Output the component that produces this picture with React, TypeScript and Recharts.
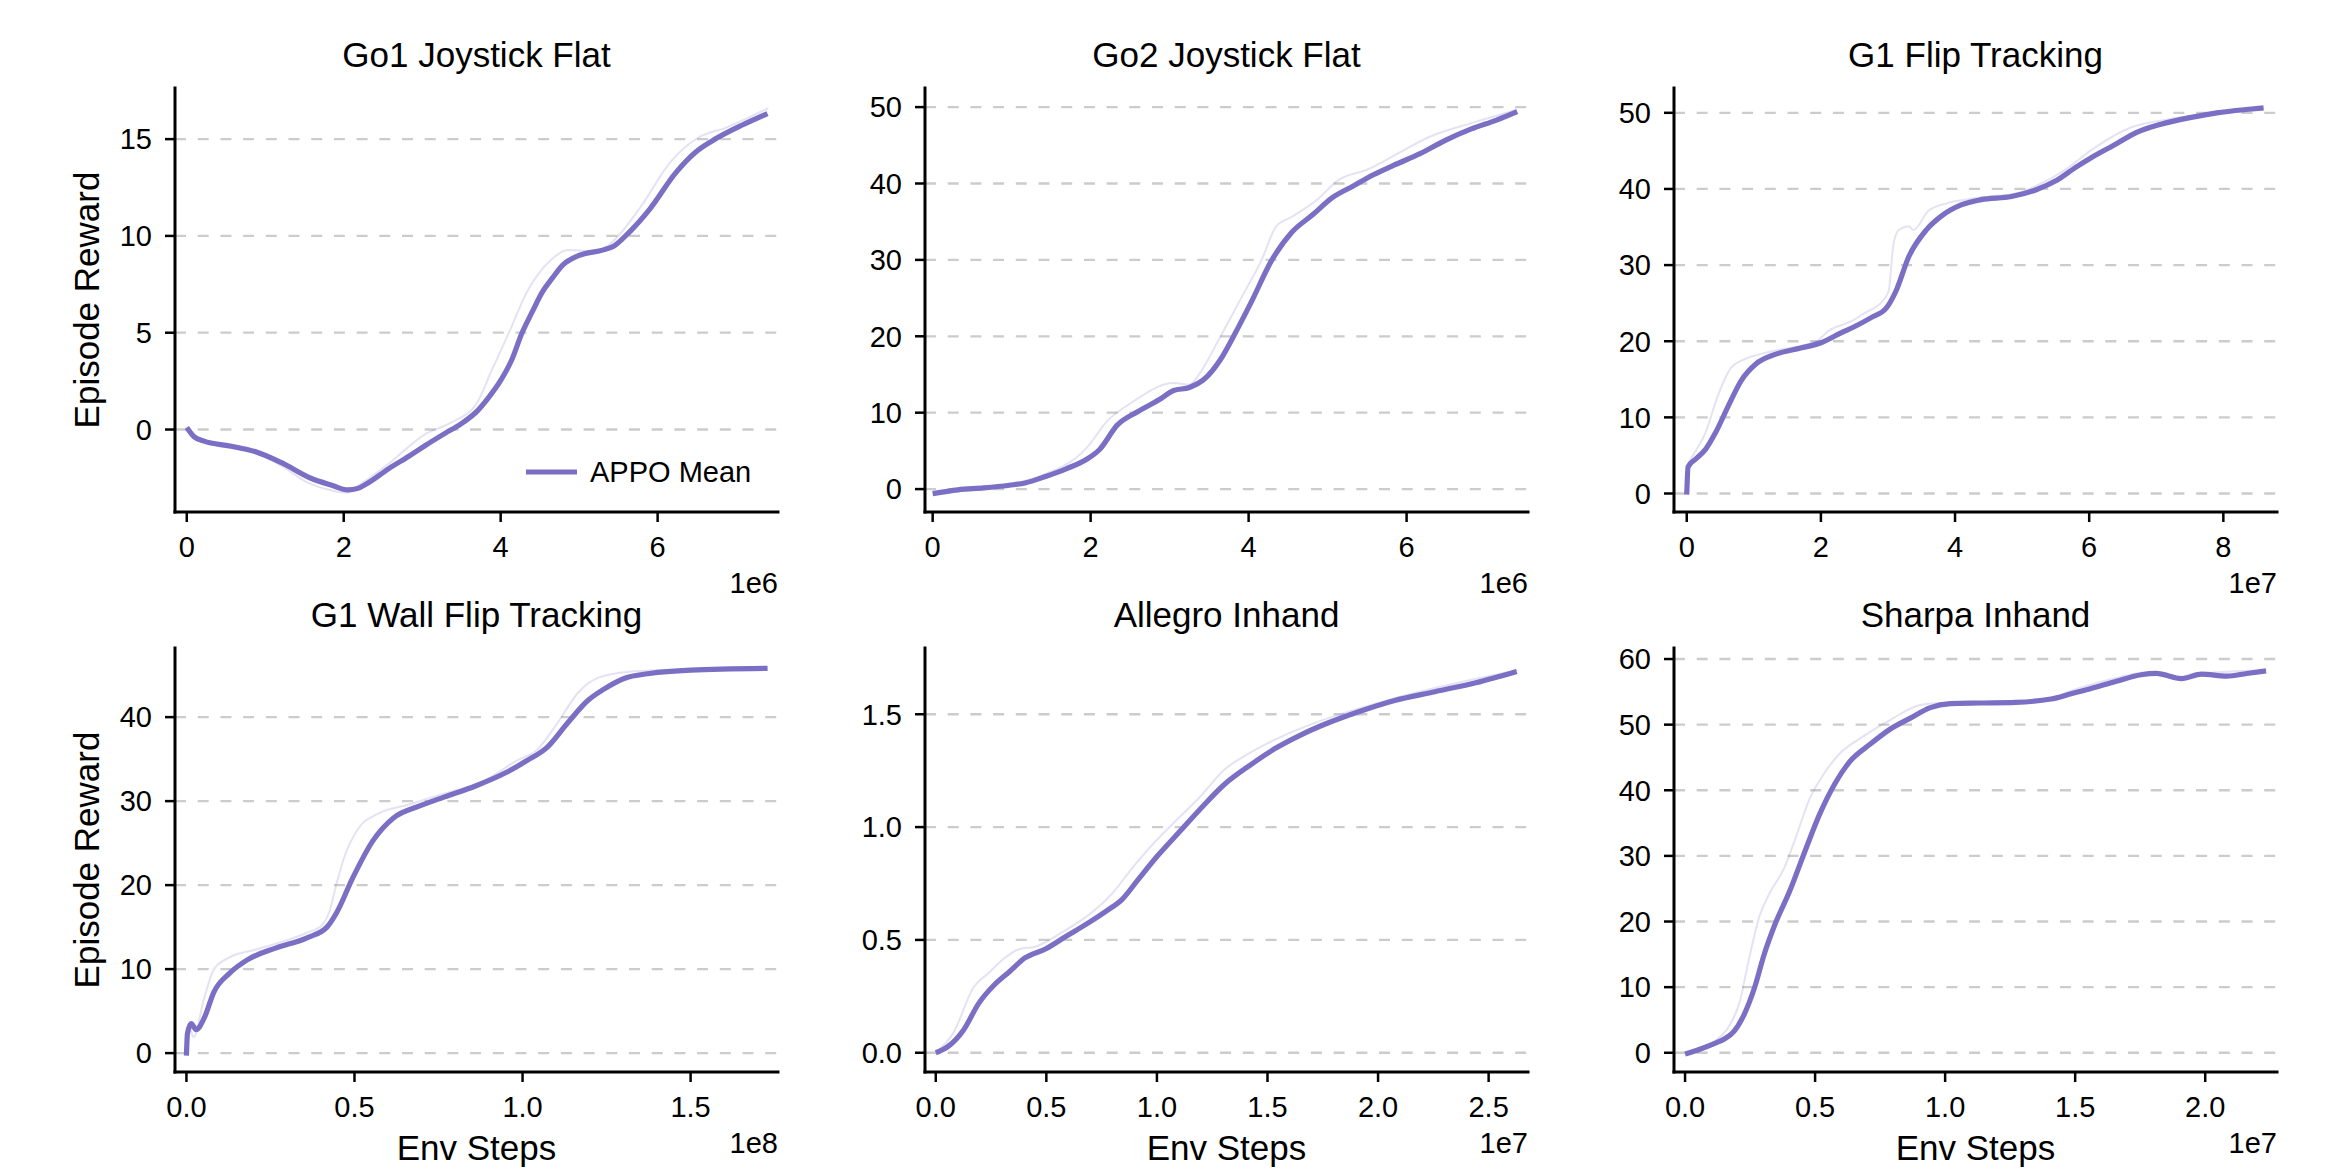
import React from 'react';
import { LineChart, Line, XAxis, YAxis, CartesianGrid } from 'recharts';

const FONT = '"Liberation Sans", Arial, Helvetica, sans-serif';
const MEAN_COLOR = '#7a6fc4';

// ---------- Go1 Joystick Flat ----------
const go1MeanSteps = [0, 0.09e6, 0.22e6, 0.55e6, 0.87e6, 1.2e6, 1.59e6, 1.85e6, 2.05e6, 2.18e6, 2.31e6, 2.57e6, 2.83e6, 3.03e6, 3.29e6, 3.49e6, 3.71e6, 3.84e6, 4.01e6, 4.14e6, 4.27e6, 4.4e6, 4.53e6, 4.66e6, 4.79e6, 4.99e6, 5.31e6, 5.44e6, 5.64e6, 5.9e6, 6.23e6, 6.49e6, 6.75e6, 7.08e6, 7.4e6];
const go1MeanReward = [0.1, -0.36, -0.6, -0.85, -1.14, -1.7, -2.53, -2.88, -3.12, -3.04, -2.76, -2.03, -1.38, -0.85, -0.2, 0.28, 0.99, 1.62, 2.6, 3.59, 4.97, 6.06, 7.1, 7.83, 8.49, 8.98, 9.28, 9.47, 10.2, 11.39, 13.26, 14.35, 15.04, 15.73, 16.32];
const go1RawSteps = [0, 0.1e6, 0.5e6, 0.88e6, 1.2e6, 1.53e6, 1.8e6, 2.05e6, 2.18e6, 2.58e6, 3.03e6, 3.36e6, 3.69e6, 3.88e6, 4.08e6, 4.34e6, 4.63e6, 4.86e6, 5.25e6, 5.45e6, 5.78e6, 6.17e6, 6.5e6, 6.89e6, 7.41e6];
const go1RawReward = [0.1, -0.5, -0.9, -1.24, -1.85, -2.72, -3.1, -3.27, -2.92, -1.74, -0.26, 0.34, 1.32, 3.0, 4.77, 7.14, 8.72, 9.27, 9.21, 9.8, 11.48, 13.85, 15.03, 15.62, 16.6];

// ---------- Go2 Joystick Flat ----------
const go2MeanSteps = [0, 0.32e6, 0.65e6, 0.97e6, 1.17e6, 1.43e6, 1.69e6, 1.95e6, 2.11e6, 2.34e6, 2.6e6, 2.86e6, 3.05e6, 3.25e6, 3.44e6, 3.64e6, 3.83e6, 4.03e6, 4.29e6, 4.55e6, 4.81e6, 5.06e6, 5.32e6, 5.58e6, 5.84e6, 6.17e6, 6.49e6, 6.82e6, 7.14e6, 7.4e6];
const go2MeanReward = [-0.6, -0.1, 0.15, 0.5, 0.8, 1.65, 2.65, 3.9, 5.15, 8.4, 10.15, 11.65, 12.9, 13.3, 14.4, 16.9, 20.4, 24.4, 29.9, 33.65, 35.9, 38.15, 39.65, 41.15, 42.4, 43.9, 45.65, 47.15, 48.3, 49.4];
const go2RawSteps = [0, 0.97e6, 1.3e6, 1.95e6, 2.21e6, 2.53e6, 3.05e6, 3.25e6, 3.38e6, 3.64e6, 3.9e6, 4.16e6, 4.35e6, 4.55e6, 4.87e6, 5.13e6, 5.52e6, 5.84e6, 6.3e6, 6.82e6, 7.4e6];
const go2RawReward = [-0.5, 0.6, 1.5, 5.4, 8.9, 11.4, 13.9, 13.65, 15.15, 19.9, 24.9, 29.9, 34.4, 35.65, 37.9, 40.4, 41.9, 43.65, 46.15, 47.9, 49.65];

// ---------- G1 Flip Tracking ----------
const flipMeanSteps = [0, 0.02e7, 0.13e7, 0.28e7, 0.43e7, 0.62e7, 0.81e7, 1.03e7, 1.33e7, 1.7e7, 2.0e7, 2.3e7, 2.52e7, 2.75e7, 2.97e7, 3.12e7, 3.31e7, 3.57e7, 3.79e7, 4.09e7, 4.39e7, 4.84e7, 5.21e7, 5.51e7, 5.81e7, 6.03e7, 6.4e7, 6.7e7, 7.07e7, 7.52e7, 7.9e7, 8.42e7, 8.6e7];
const flipMeanReward = [-0.15, 3.5, 4.5, 5.8, 8.0, 11.5, 14.8, 17.0, 18.3, 19.1, 19.8, 21.1, 22.0, 23.1, 24.3, 26.6, 31.1, 34.6, 36.4, 37.9, 38.6, 39.0, 39.9, 41.1, 42.9, 44.1, 45.9, 47.4, 48.5, 49.4, 50.0, 50.5, 50.65];
const flipRawSteps = [0, 0.02e7, 0.06e7, 0.28e7, 0.47e7, 0.66e7, 0.88e7, 1.18e7, 1.93e7, 2.12e7, 2.45e7, 2.67e7, 2.9e7, 3.01e7, 3.08e7, 3.16e7, 3.31e7, 3.38e7, 3.6e7, 3.87e7, 4.16e7, 4.39e7, 4.91e7, 5.21e7, 5.66e7, 6.03e7, 6.63e7, 7.15e7, 7.9e7, 8.6e7];
const flipRawReward = [0, 3.8, 4.5, 8.0, 13.0, 16.5, 17.7, 18.5, 20.0, 21.4, 22.6, 23.8, 25.1, 26.6, 32.6, 34.6, 35.1, 34.6, 37.1, 38.1, 38.6, 38.9, 39.4, 40.4, 42.6, 45.1, 48.1, 49.1, 49.9, 50.4];

// ---------- G1 Wall Flip Tracking ----------
const wallMeanSteps = [0, 0.003e8, 0.014e8, 0.029e8, 0.052e8, 0.082e8, 0.128e8, 0.181e8, 0.265e8, 0.357e8, 0.418e8, 0.448e8, 0.494e8, 0.555e8, 0.616e8, 0.692e8, 0.768e8, 0.86e8, 0.951e8, 1.012e8, 1.073e8, 1.134e8, 1.195e8, 1.241e8, 1.302e8, 1.378e8, 1.5e8, 1.729e8];
const wallMeanReward = [-0.3, 2.3, 3.5, 2.8, 4.1, 7.3, 9.5, 11.1, 12.5, 13.7, 15.0, 16.8, 20.8, 25.3, 28.0, 29.4, 30.5, 31.8, 33.4, 34.8, 36.4, 39.3, 42.0, 43.3, 44.6, 45.2, 45.6, 45.8];
const wallRawSteps = [0, 0.008e8, 0.021e8, 0.052e8, 0.082e8, 0.128e8, 0.204e8, 0.28e8, 0.357e8, 0.402e8, 0.425e8, 0.448e8, 0.471e8, 0.509e8, 0.57e8, 0.662e8, 0.768e8, 0.89e8, 0.982e8, 1.043e8, 1.104e8, 1.165e8, 1.226e8, 1.317e8, 1.424e8, 1.729e8];
const wallRawReward = [0, 3.2, 1.9, 6.4, 10.0, 11.4, 12.3, 13.2, 14.3, 15.2, 16.8, 20.4, 23.5, 26.6, 28.5, 29.6, 30.9, 32.5, 34.8, 36.1, 39.3, 42.9, 44.7, 45.4, 45.6, 45.8];

// ---------- Allegro Inhand ----------
const allegroMeanSteps = [0, 0.056e7, 0.125e7, 0.195e7, 0.264e7, 0.334e7, 0.403e7, 0.496e7, 0.588e7, 0.681e7, 0.774e7, 0.843e7, 0.913e7, 1.005e7, 1.098e7, 1.191e7, 1.306e7, 1.422e7, 1.538e7, 1.654e7, 1.77e7, 1.909e7, 2.071e7, 2.257e7, 2.442e7, 2.627e7];
const allegroMeanReward = [0, 0.028, 0.1, 0.22, 0.3, 0.36, 0.42, 0.46, 0.515, 0.57, 0.63, 0.68, 0.765, 0.875, 0.975, 1.075, 1.19, 1.275, 1.35, 1.41, 1.46, 1.51, 1.56, 1.6, 1.64, 1.69];
const allegroRawSteps = [0, 0.079e7, 0.171e7, 0.241e7, 0.311e7, 0.38e7, 0.45e7, 0.565e7, 0.797e7, 0.89e7, 0.982e7, 1.098e7, 1.191e7, 1.306e7, 1.422e7, 1.561e7, 1.724e7, 2.071e7, 2.627e7];
const allegroRawReward = [0, 0.087, 0.29, 0.355, 0.42, 0.46, 0.47, 0.53, 0.705, 0.82, 0.925, 1.04, 1.13, 1.255, 1.33, 1.4, 1.465, 1.57, 1.695];

// ---------- Sharpa Inhand ----------
const sharpaMeanSteps = [0, 0.054e7, 0.112e7, 0.151e7, 0.189e7, 0.228e7, 0.267e7, 0.305e7, 0.344e7, 0.402e7, 0.46e7, 0.518e7, 0.576e7, 0.634e7, 0.711e7, 0.788e7, 0.866e7, 0.943e7, 1.02e7, 1.136e7, 1.271e7, 1.407e7, 1.484e7, 1.561e7, 1.658e7, 1.754e7, 1.812e7, 1.909e7, 1.986e7, 2.083e7, 2.16e7, 2.234e7];
const sharpaMeanReward = [-0.2, 0.5, 1.4, 2.1, 3.3, 5.9, 9.9, 15.1, 19.4, 24.6, 30.6, 36.4, 41.0, 44.4, 47.0, 49.3, 51.0, 52.6, 53.2, 53.3, 53.4, 53.9, 54.7, 55.5, 56.6, 57.6, 57.8, 57.0, 57.7, 57.4, 57.8, 58.2];
const sharpaRawSteps = [0, 0.112e7, 0.17e7, 0.209e7, 0.247e7, 0.286e7, 0.325e7, 0.383e7, 0.421e7, 0.479e7, 0.537e7, 0.595e7, 0.673e7, 0.788e7, 0.904e7, 0.981e7, 1.174e7, 1.368e7, 1.503e7, 1.658e7, 1.774e7, 1.89e7, 1.948e7, 2.234e7];
const sharpaRawReward = [-0.2, 1.7, 4.1, 7.6, 14.5, 20.8, 24.3, 28.3, 32.3, 38.7, 42.7, 45.6, 47.9, 50.7, 53.0, 53.3, 53.3, 53.6, 55.4, 57.1, 58.0, 57.1, 57.7, 58.3];

// ---------- tick values ----------
const go1XTicks = [0, 2e6, 4e6, 6e6];
const go1YTicks = [0, 5, 10, 15];
const go2XTicks = [0, 2e6, 4e6, 6e6];
const go2YTicks = [0, 10, 20, 30, 40, 50];
const flipXTicks = [0, 2e7, 4e7, 6e7, 8e7];
const flipYTicks = [0, 10, 20, 30, 40, 50];
const wallXTicks = [0, 0.5e8, 1.0e8, 1.5e8];
const wallYTicks = [0, 10, 20, 30, 40];
const allegroXTicks = [0, 0.5e7, 1.0e7, 1.5e7, 2.0e7, 2.5e7];
const allegroYTicks = [0, 0.5, 1.0, 1.5];
const sharpaXTicks = [0, 0.5e7, 1.0e7, 1.5e7, 2.0e7];
const sharpaYTicks = [0, 10, 20, 30, 40, 50, 60];

type Pt = { step: number; value: number };
const toPoints = (steps: number[], values: number[]): Pt[] =>
  steps.map((s, i) => ({ step: s, value: values[i] }));

type Panel = {
  title: string;
  mean: Pt[];
  raw: Pt[];
  xDomain: [number, number];
  xTicks: number[];
  xExp: number;
  xDigits: number;
  yDomain: [number, number];
  yTicks: number[];
  yDigits: number;
};

const panels: Panel[] = [
  {
    title: 'Go1 Joystick Flat',
    mean: toPoints(go1MeanSteps, go1MeanReward),
    raw: toPoints(go1RawSteps, go1RawReward),
    xDomain: [-0.15e6, 7.534e6], xTicks: go1XTicks, xExp: 6, xDigits: 0,
    yDomain: [-4.26, 17.64], yTicks: go1YTicks, yDigits: 0,
  },
  {
    title: 'Go2 Joystick Flat',
    mean: toPoints(go2MeanSteps, go2MeanReward),
    raw: toPoints(go2RawSteps, go2RawReward),
    xDomain: [-0.097e6, 7.537e6], xTicks: go2XTicks, xExp: 6, xDigits: 0,
    yDomain: [-3.0, 52.5], yTicks: go2YTicks, yDigits: 0,
  },
  {
    title: 'G1 Flip Tracking',
    mean: toPoints(flipMeanSteps, flipMeanReward),
    raw: toPoints(flipRawSteps, flipRawReward),
    xDomain: [-0.19e7, 8.8e7], xTicks: flipXTicks, xExp: 7, xDigits: 0,
    yDomain: [-2.43, 53.26], yTicks: flipYTicks, yDigits: 0,
  },
  {
    title: 'G1 Wall Flip Tracking',
    mean: toPoints(wallMeanSteps, wallMeanReward),
    raw: toPoints(wallRawSteps, wallRawReward),
    xDomain: [-0.034e8, 1.76e8], xTicks: wallXTicks, xExp: 8, xDigits: 1,
    yDomain: [-2.25, 48.23], yTicks: wallYTicks, yDigits: 0,
  },
  {
    title: 'Allegro Inhand',
    mean: toPoints(allegroMeanSteps, allegroMeanReward),
    raw: toPoints(allegroRawSteps, allegroRawReward),
    xDomain: [-0.0487e7, 2.678e7], xTicks: allegroXTicks, xExp: 7, xDigits: 1,
    yDomain: [-0.0853, 1.7936], yTicks: allegroYTicks, yDigits: 1,
  },
  {
    title: 'Sharpa Inhand',
    mean: toPoints(sharpaMeanSteps, sharpaMeanReward),
    raw: toPoints(sharpaRawSteps, sharpaRawReward),
    xDomain: [-0.0425e7, 2.276e7], xTicks: sharpaXTicks, xExp: 7, xDigits: 1,
    yDomain: [-2.93, 61.68], yTicks: sharpaYTicks, yDigits: 0,
  },
];

// figure geometry (px)
const FIG_W = 2325;
const FIG_H = 1175;
const COL_LEFT = [175, 925, 1674];
const ROW_TOP = [88, 648];
const PLOT_W = 603;
const PLOT_H = 424;
const Y_AXIS_W = 110;
const X_AXIS_H = 62;
const PAD_TOP = 10;
const PAD_RIGHT = 20;

const TICK_FONT = 29;
const LABEL_FONT = 35;

function PanelChart({ p, col, row }: { p: Panel; col: number; row: number }) {
  const left = COL_LEFT[col] - Y_AXIS_W;
  const top = ROW_TOP[row] - PAD_TOP;
  const tickStyle = { fill: '#000', fontSize: TICK_FONT, fontFamily: FONT };
  const axisLine = { stroke: '#000', strokeWidth: 3, strokeLinecap: 'square' as const };
  const tickLine = { stroke: '#000', strokeWidth: 2.5 };
  return (
    <div style={{ position: 'absolute', left, top }}>
      <LineChart
        width={Y_AXIS_W + PLOT_W + PAD_RIGHT}
        height={PAD_TOP + PLOT_H + X_AXIS_H}
        margin={{ top: PAD_TOP, right: PAD_RIGHT, bottom: 0, left: 0 }}
      >
        {/* dashed horizontal grid at the reward ticks only */}
        <CartesianGrid
          vertical={false}
          horizontalValues={p.yTicks}
          stroke="#cccccc"
          strokeWidth={2.3}
          strokeDasharray="11 11.7"
        />
        <XAxis
          type="number"
          dataKey="step"
          domain={p.xDomain}
          allowDataOverflow
          ticks={p.xTicks}
          interval={0}
          height={X_AXIS_H}
          tickSize={10}
          tickMargin={14}
          stroke="#000"
          axisLine={axisLine}
          tickLine={tickLine}
          tick={tickStyle}
          tickFormatter={(v: number) => (v / Math.pow(10, p.xExp)).toFixed(p.xDigits)}
        />
        <YAxis
          type="number"
          dataKey="value"
          domain={p.yDomain}
          allowDataOverflow
          ticks={p.yTicks}
          interval={0}
          width={Y_AXIS_W}
          tickSize={10}
          tickMargin={13}
          stroke="#000"
          axisLine={axisLine}
          tickLine={tickLine}
          tick={tickStyle}
          tickFormatter={(v: number) => v.toFixed(p.yDigits)}
        />
        <Line
          data={p.raw}
          dataKey="value"
          type="monotone"
          stroke={MEAN_COLOR}
          strokeOpacity={0.2}
          strokeWidth={2}
          dot={false}
          activeDot={false}
          isAnimationActive={false}
        />
        <Line
          data={p.mean}
          dataKey="value"
          name="APPO Mean"
          type="monotone"
          stroke={MEAN_COLOR}
          strokeWidth={5.2}
          dot={false}
          activeDot={false}
          isAnimationActive={false}
        />
      </LineChart>
    </div>
  );
}

export default function App() {
  const textStyle = { fontFamily: FONT, fill: '#000' };
  return (
    <div
      style={{
        position: 'absolute',
        left: 0,
        top: 0,
        width: FIG_W,
        height: FIG_H,
        background: '#fff',
        overflow: 'hidden',
      }}
    >
      {panels.map((p, i) => (
        <PanelChart key={p.title} p={p} col={i % 3} row={Math.floor(i / 3)} />
      ))}
      <svg
        width={FIG_W}
        height={FIG_H}
        style={{ position: 'absolute', left: 0, top: 0, pointerEvents: 'none' }}
      >
        {panels.map((p, i) => {
          const col = i % 3;
          const row = Math.floor(i / 3);
          const cx = COL_LEFT[col] + PLOT_W / 2;
          const right = COL_LEFT[col] + PLOT_W;
          const bottom = ROW_TOP[row] + PLOT_H;
          return (
            <g key={p.title}>
              <text x={cx} y={ROW_TOP[row] - 21} textAnchor="middle" fontSize={LABEL_FONT} style={textStyle}>
                {p.title}
              </text>
              <text x={right} y={bottom + 81} textAnchor="end" fontSize={TICK_FONT} style={textStyle}>
                {`1e${p.xExp}`}
              </text>
              {row === 1 && (
                <text x={cx} y={bottom + 88} textAnchor="middle" fontSize={LABEL_FONT} style={textStyle}>
                  Env Steps
                </text>
              )}
              {col === 0 && (
                <text
                  transform={`translate(98.5, ${ROW_TOP[row] + PLOT_H / 2}) rotate(-90)`}
                  textAnchor="middle"
                  fontSize={LABEL_FONT}
                  style={textStyle}
                >
                  Episode Reward
                </text>
              )}
            </g>
          );
        })}
        {/* legend of the first panel */}
        <line x1={526} y1={472} x2={577} y2={472} stroke={MEAN_COLOR} strokeWidth={5.2} />
        <text x={590} y={482} fontSize={TICK_FONT} style={textStyle}>
          APPO Mean
        </text>
      </svg>
    </div>
  );
}
